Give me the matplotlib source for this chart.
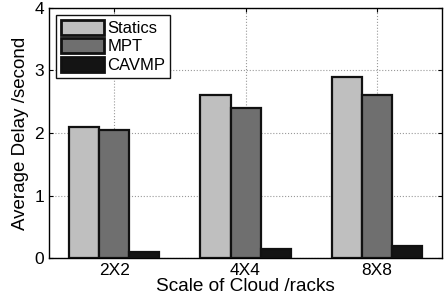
import numpy as np
import matplotlib
matplotlib.use('Agg')
import matplotlib.pyplot as plt

# chart data
scales = ["2X2", "4X4", "8X8"]
statics = [2.1, 2.6, 2.9]
mpt = [2.05, 2.4, 2.6]
cavmp = [0.1, 0.15, 0.2]

plt.rcParams['font.family'] = ['Liberation Sans', 'DejaVu Sans']

fig = plt.figure(figsize=(4.44, 3.05), dpi=100)
ax = fig.add_axes([0.110, 0.154, 0.886, 0.820])

x = np.arange(1, len(scales) + 1)
w = 0.229
ax.bar(x - w, statics, w, color='#bfbfbf', edgecolor='#111111', linewidth=1.6, label='Statics', zorder=3)
ax.bar(x, mpt, w, color='#6f6f6f', edgecolor='#111111', linewidth=1.6, label='MPT', zorder=3)
ax.bar(x + w, cavmp, w, color='#141414', edgecolor='#111111', linewidth=1.6, label='CAVMP', zorder=3)

ax.set_xlim(0.5, 3.5)
ax.set_ylim(0, 4)
ax.set_xticks(x)
ax.set_xticklabels(scales)
ax.set_yticks([0, 1, 2, 3, 4])
ax.tick_params(direction='in', top=True, right=True, labelsize=12.5, length=3)
ax.grid(True, linestyle=':', color='#999999', linewidth=0.8, zorder=0)
for s in ax.spines.values():
    s.set_linewidth(1.0)

ax.set_xlabel('Scale of Cloud /racks', fontsize=13.7, labelpad=0)
ax.set_ylabel('Average Delay /second', fontsize=13.5, labelpad=4)

leg = ax.legend(loc='upper left', fontsize=12, fancybox=False, framealpha=1,
                edgecolor='#111111', handlelength=2.6, handleheight=1.0,
                handletextpad=0.2, borderpad=0.3, labelspacing=0.15,
                borderaxespad=0.4)
leg.get_frame().set_linewidth(1.0)
for p in leg.get_patches():
    p.set_linewidth(2.0)

plt.savefig('out.png', dpi=100)
